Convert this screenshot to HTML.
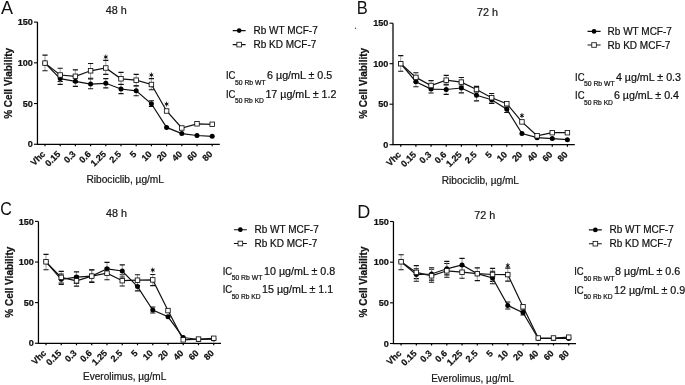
<!DOCTYPE html><html><head><meta charset="utf-8"><style>html,body{margin:0;padding:0;background:#fff;width:685px;height:385px;overflow:hidden}svg{display:block;will-change:transform}text{font-family:"Liberation Sans",sans-serif;stroke:#111;stroke-width:0.22px}</style></head><body>
<svg width="685" height="385" viewBox="0 0 685 385">
<g><text x="0.9" y="14" font-size="18" fill="#111" style="stroke:none">A</text><text x="105.8" y="13.8" font-size="10.8" fill="#222">48 h</text><path d="M37.45 22.1V144.25H219.8" fill="none" stroke="#000" stroke-width="1.25"/><path d="M33.95 144.25H37.45" stroke="#000" stroke-width="1.1"/><text x="32.85" y="147.45" font-size="9.1" font-weight="bold" text-anchor="end" fill="#111">0</text><path d="M33.95 103.53H37.45" stroke="#000" stroke-width="1.1"/><text x="32.85" y="106.73" font-size="9.1" font-weight="bold" text-anchor="end" fill="#111">50</text><path d="M33.95 62.82H37.45" stroke="#000" stroke-width="1.1"/><text x="32.85" y="66.02" font-size="9.1" font-weight="bold" text-anchor="end" fill="#111">100</text><path d="M33.95 22.1H37.45" stroke="#000" stroke-width="1.1"/><text x="32.85" y="25.3" font-size="9.1" font-weight="bold" text-anchor="end" fill="#111">150</text><path d="M45 144.25v2" stroke="#000" stroke-width="1.2"/><text transform="translate(45.9 154.65) rotate(-45)" font-size="9" font-weight="bold" text-anchor="end" fill="#111">Vhc</text><path d="M60.2 144.25v2" stroke="#000" stroke-width="1.2"/><text transform="translate(61.1 154.65) rotate(-45)" font-size="9" font-weight="bold" text-anchor="end" fill="#111">0.15</text><path d="M75.4 144.25v2" stroke="#000" stroke-width="1.2"/><text transform="translate(76.3 154.65) rotate(-45)" font-size="9" font-weight="bold" text-anchor="end" fill="#111">0.3</text><path d="M90.6 144.25v2" stroke="#000" stroke-width="1.2"/><text transform="translate(91.5 154.65) rotate(-45)" font-size="9" font-weight="bold" text-anchor="end" fill="#111">0.6</text><path d="M105.8 144.25v2" stroke="#000" stroke-width="1.2"/><text transform="translate(106.7 154.65) rotate(-45)" font-size="9" font-weight="bold" text-anchor="end" fill="#111">1.25</text><path d="M121 144.25v2" stroke="#000" stroke-width="1.2"/><text transform="translate(121.9 154.65) rotate(-45)" font-size="9" font-weight="bold" text-anchor="end" fill="#111">2.5</text><path d="M136.2 144.25v2" stroke="#000" stroke-width="1.2"/><text transform="translate(137.1 154.65) rotate(-45)" font-size="9" font-weight="bold" text-anchor="end" fill="#111">5</text><path d="M151.4 144.25v2" stroke="#000" stroke-width="1.2"/><text transform="translate(152.3 154.65) rotate(-45)" font-size="9" font-weight="bold" text-anchor="end" fill="#111">10</text><path d="M166.6 144.25v2" stroke="#000" stroke-width="1.2"/><text transform="translate(167.5 154.65) rotate(-45)" font-size="9" font-weight="bold" text-anchor="end" fill="#111">20</text><path d="M181.8 144.25v2" stroke="#000" stroke-width="1.2"/><text transform="translate(182.7 154.65) rotate(-45)" font-size="9" font-weight="bold" text-anchor="end" fill="#111">40</text><path d="M197 144.25v2" stroke="#000" stroke-width="1.2"/><text transform="translate(197.9 154.65) rotate(-45)" font-size="9" font-weight="bold" text-anchor="end" fill="#111">60</text><path d="M212.2 144.25v2" stroke="#000" stroke-width="1.2"/><text transform="translate(213.1 154.65) rotate(-45)" font-size="9" font-weight="bold" text-anchor="end" fill="#111">80</text><text x="86.4" y="183" font-size="10.1" textLength="77.6" lengthAdjust="spacingAndGlyphs" fill="#222">Ribociclib, µg/mL</text><text transform="translate(12 83.4) rotate(-90)" font-size="10" font-weight="bold" text-anchor="middle" fill="#111">% Cell Viability</text><path d="M45 55.1V70.7" stroke="#888" stroke-width="0.8"/><path d="M42.4 55.1h5.2M42.4 70.7h5.2" stroke="#111" stroke-width="1.15"/><path d="M60.2 68.2V81.5" stroke="#888" stroke-width="0.8"/><path d="M57.6 68.2h5.2M57.6 81.5h5.2" stroke="#111" stroke-width="1.15"/><path d="M75.4 69.9V82.5" stroke="#888" stroke-width="0.8"/><path d="M72.8 69.9h5.2M72.8 82.5h5.2" stroke="#111" stroke-width="1.15"/><path d="M90.6 63.5V78.2" stroke="#888" stroke-width="0.8"/><path d="M88 63.5h5.2M88 78.2h5.2" stroke="#111" stroke-width="1.15"/><path d="M105.8 60.4V74.3" stroke="#888" stroke-width="0.8"/><path d="M103.2 60.4h5.2M103.2 74.3h5.2" stroke="#111" stroke-width="1.15"/><path d="M121 72.4V84.3" stroke="#888" stroke-width="0.8"/><path d="M118.4 72.4h5.2M118.4 84.3h5.2" stroke="#111" stroke-width="1.15"/><path d="M136.2 74.3V85.7" stroke="#888" stroke-width="0.8"/><path d="M133.6 74.3h5.2M133.6 85.7h5.2" stroke="#111" stroke-width="1.15"/><path d="M151.4 78.6V89.7" stroke="#888" stroke-width="0.8"/><path d="M148.8 78.6h5.2M148.8 89.7h5.2" stroke="#111" stroke-width="1.15"/><path d="M60.2 74V84.3" stroke="#888" stroke-width="0.8"/><path d="M57.6 74h5.2M57.6 84.3h5.2" stroke="#111" stroke-width="1.15"/><path d="M75.4 76.3V86.3" stroke="#888" stroke-width="0.8"/><path d="M72.8 76.3h5.2M72.8 86.3h5.2" stroke="#111" stroke-width="1.15"/><path d="M90.6 79V88.7" stroke="#888" stroke-width="0.8"/><path d="M88 79h5.2M88 88.7h5.2" stroke="#111" stroke-width="1.15"/><path d="M105.8 78.6V87.9" stroke="#888" stroke-width="0.8"/><path d="M103.2 78.6h5.2M103.2 87.9h5.2" stroke="#111" stroke-width="1.15"/><path d="M121 84.5V93.6" stroke="#888" stroke-width="0.8"/><path d="M118.4 84.5h5.2M118.4 93.6h5.2" stroke="#111" stroke-width="1.15"/><path d="M136.2 86V95.7" stroke="#888" stroke-width="0.8"/><path d="M133.6 86h5.2M133.6 95.7h5.2" stroke="#111" stroke-width="1.15"/><path d="M151.4 100.7V106.5" stroke="#888" stroke-width="0.8"/><path d="M148.8 100.7h5.2M148.8 106.5h5.2" stroke="#111" stroke-width="1.15"/><polyline fill="none" stroke="#111" stroke-width="1.2" points="45,63.1 60.2,78.6 75.4,81.3 90.6,84.1 105.8,83.3 121,89 136.2,90.8 151.4,103.8 166.6,127.4 181.8,133.6 197,135.5 212.2,136.3"/><polyline fill="none" stroke="#111" stroke-width="1.2" points="45,63.1 60.2,75 75.4,76.3 90.6,70.8 105.8,68 121,78.8 136.2,80.2 151.4,84.5 166.6,111 181.8,128 197,123.8 212.2,124.3"/><circle cx="45" cy="63.1" r="2.5" fill="#000"/><circle cx="60.2" cy="78.6" r="2.5" fill="#000"/><circle cx="75.4" cy="81.3" r="2.5" fill="#000"/><circle cx="90.6" cy="84.1" r="2.5" fill="#000"/><circle cx="105.8" cy="83.3" r="2.5" fill="#000"/><circle cx="121" cy="89" r="2.5" fill="#000"/><circle cx="136.2" cy="90.8" r="2.5" fill="#000"/><circle cx="151.4" cy="103.8" r="2.5" fill="#000"/><circle cx="166.6" cy="127.4" r="2.5" fill="#000"/><circle cx="181.8" cy="133.6" r="2.5" fill="#000"/><circle cx="197" cy="135.5" r="2.5" fill="#000"/><circle cx="212.2" cy="136.3" r="2.5" fill="#000"/><rect x="42.75" y="60.85" width="4.5" height="4.5" fill="#fff" stroke="#111" stroke-width="0.85"/><rect x="57.95" y="72.75" width="4.5" height="4.5" fill="#fff" stroke="#111" stroke-width="0.85"/><rect x="73.15" y="74.05" width="4.5" height="4.5" fill="#fff" stroke="#111" stroke-width="0.85"/><rect x="88.35" y="68.55" width="4.5" height="4.5" fill="#fff" stroke="#111" stroke-width="0.85"/><rect x="103.55" y="65.75" width="4.5" height="4.5" fill="#fff" stroke="#111" stroke-width="0.85"/><rect x="118.75" y="76.55" width="4.5" height="4.5" fill="#fff" stroke="#111" stroke-width="0.85"/><rect x="133.95" y="77.95" width="4.5" height="4.5" fill="#fff" stroke="#111" stroke-width="0.85"/><rect x="149.15" y="82.25" width="4.5" height="4.5" fill="#fff" stroke="#111" stroke-width="0.85"/><rect x="164.35" y="108.75" width="4.5" height="4.5" fill="#fff" stroke="#111" stroke-width="0.85"/><rect x="179.55" y="125.75" width="4.5" height="4.5" fill="#fff" stroke="#111" stroke-width="0.85"/><rect x="194.75" y="121.55" width="4.5" height="4.5" fill="#fff" stroke="#111" stroke-width="0.85"/><rect x="209.95" y="122.05" width="4.5" height="4.5" fill="#fff" stroke="#111" stroke-width="0.85"/><path d="M105.8 54.6v4.8M103.85 55.88l3.9 2.24M103.85 58.12l3.9 -2.24" stroke="#111" stroke-width="0.9"/><circle cx="105.8" cy="57" r="1.05" fill="#111"/><path d="M151.4 72.6v4.8M149.45 73.88l3.9 2.24M149.45 76.12l3.9 -2.24" stroke="#111" stroke-width="0.9"/><circle cx="151.4" cy="75" r="1.05" fill="#111"/><path d="M166.6 101.7v4.8M164.65 102.98l3.9 2.24M164.65 105.22l3.9 -2.24" stroke="#111" stroke-width="0.9"/><circle cx="166.6" cy="104.1" r="1.05" fill="#111"/><path d="M232.7 30.6H245.6M232.7 44.6H245.6" stroke="#111" stroke-width="1.15"/><circle cx="239.15" cy="30.6" r="2.35" fill="#000"/><rect x="236.85" y="42.3" width="4.6" height="4.6" fill="#fff" stroke="#222" stroke-width="0.9"/><text x="253.5" y="33.7" font-size="10" fill="#111">Rb WT MCF-7</text><text x="253.5" y="47.7" font-size="10" fill="#111">Rb KD MCF-7</text><text x="225.9" y="78.9" font-size="10.4" textLength="9.5" lengthAdjust="spacingAndGlyphs" fill="#111">IC</text><text x="234.95" y="84.5" font-size="6.9" textLength="30.7" lengthAdjust="spacingAndGlyphs" fill="#111">50 Rb WT</text><text x="267.1" y="78.9" font-size="10.7" fill="#111">6 µg/mL ± 0.5</text><text x="225.9" y="97.5" font-size="10.4" textLength="9.5" lengthAdjust="spacingAndGlyphs" fill="#111">IC</text><text x="234.95" y="103.1" font-size="6.9" textLength="29.0" lengthAdjust="spacingAndGlyphs" fill="#111">50 Rb KD</text><text x="265.4" y="97.5" font-size="10.7" fill="#111">17 µg/mL ± 1.2</text></g>
<g><text x="356.7" y="14" font-size="18" fill="#111" style="stroke:none" textLength="11" lengthAdjust="spacingAndGlyphs">B</text><text x="477" y="15.8" font-size="10.8" fill="#222">72 h</text><path d="M393 23.2V144.7H574.8" fill="none" stroke="#000" stroke-width="1.25"/><path d="M389.5 144.7H393" stroke="#000" stroke-width="1.1"/><text x="388.4" y="147.9" font-size="9.1" font-weight="bold" text-anchor="end" fill="#111">0</text><path d="M389.5 104.2H393" stroke="#000" stroke-width="1.1"/><text x="388.4" y="107.4" font-size="9.1" font-weight="bold" text-anchor="end" fill="#111">50</text><path d="M389.5 63.7H393" stroke="#000" stroke-width="1.1"/><text x="388.4" y="66.9" font-size="9.1" font-weight="bold" text-anchor="end" fill="#111">100</text><path d="M389.5 23.2H393" stroke="#000" stroke-width="1.1"/><text x="388.4" y="26.4" font-size="9.1" font-weight="bold" text-anchor="end" fill="#111">150</text><path d="M400.75 144.7v2" stroke="#000" stroke-width="1.2"/><text transform="translate(401.65 155.1) rotate(-45)" font-size="9" font-weight="bold" text-anchor="end" fill="#111">Vhc</text><path d="M415.9 144.7v2" stroke="#000" stroke-width="1.2"/><text transform="translate(416.8 155.1) rotate(-45)" font-size="9" font-weight="bold" text-anchor="end" fill="#111">0.15</text><path d="M431.05 144.7v2" stroke="#000" stroke-width="1.2"/><text transform="translate(431.95 155.1) rotate(-45)" font-size="9" font-weight="bold" text-anchor="end" fill="#111">0.3</text><path d="M446.2 144.7v2" stroke="#000" stroke-width="1.2"/><text transform="translate(447.1 155.1) rotate(-45)" font-size="9" font-weight="bold" text-anchor="end" fill="#111">0.6</text><path d="M461.35 144.7v2" stroke="#000" stroke-width="1.2"/><text transform="translate(462.25 155.1) rotate(-45)" font-size="9" font-weight="bold" text-anchor="end" fill="#111">1.25</text><path d="M476.5 144.7v2" stroke="#000" stroke-width="1.2"/><text transform="translate(477.4 155.1) rotate(-45)" font-size="9" font-weight="bold" text-anchor="end" fill="#111">2.5</text><path d="M491.65 144.7v2" stroke="#000" stroke-width="1.2"/><text transform="translate(492.55 155.1) rotate(-45)" font-size="9" font-weight="bold" text-anchor="end" fill="#111">5</text><path d="M506.8 144.7v2" stroke="#000" stroke-width="1.2"/><text transform="translate(507.7 155.1) rotate(-45)" font-size="9" font-weight="bold" text-anchor="end" fill="#111">10</text><path d="M521.95 144.7v2" stroke="#000" stroke-width="1.2"/><text transform="translate(522.85 155.1) rotate(-45)" font-size="9" font-weight="bold" text-anchor="end" fill="#111">20</text><path d="M537.1 144.7v2" stroke="#000" stroke-width="1.2"/><text transform="translate(538 155.1) rotate(-45)" font-size="9" font-weight="bold" text-anchor="end" fill="#111">40</text><path d="M552.25 144.7v2" stroke="#000" stroke-width="1.2"/><text transform="translate(553.15 155.1) rotate(-45)" font-size="9" font-weight="bold" text-anchor="end" fill="#111">60</text><path d="M567.4 144.7v2" stroke="#000" stroke-width="1.2"/><text transform="translate(568.3 155.1) rotate(-45)" font-size="9" font-weight="bold" text-anchor="end" fill="#111">80</text><text x="441.8" y="183.7" font-size="10.1" textLength="77.2" lengthAdjust="spacingAndGlyphs" fill="#222">Ribociclib, µg/mL</text><text transform="translate(366.8 83.4) rotate(-90)" font-size="10" font-weight="bold" text-anchor="middle" fill="#111">% Cell Viability</text><path d="M400.75 55.6V71.2" stroke="#888" stroke-width="0.8"/><path d="M398.15 55.6h5.2M398.15 71.2h5.2" stroke="#111" stroke-width="1.15"/><path d="M415.9 72.7V82" stroke="#888" stroke-width="0.8"/><path d="M413.3 72.7h5.2M413.3 82h5.2" stroke="#111" stroke-width="1.15"/><path d="M431.05 80.6V88" stroke="#888" stroke-width="0.8"/><path d="M428.45 80.6h5.2M428.45 88h5.2" stroke="#111" stroke-width="1.15"/><path d="M446.2 75.4V84.2" stroke="#888" stroke-width="0.8"/><path d="M443.6 75.4h5.2M443.6 84.2h5.2" stroke="#111" stroke-width="1.15"/><path d="M461.35 77.5V86" stroke="#888" stroke-width="0.8"/><path d="M458.75 77.5h5.2M458.75 86h5.2" stroke="#111" stroke-width="1.15"/><path d="M476.5 86.3V92" stroke="#888" stroke-width="0.8"/><path d="M473.9 86.3h5.2M473.9 92h5.2" stroke="#111" stroke-width="1.15"/><path d="M491.65 93.5V103.3" stroke="#888" stroke-width="0.8"/><path d="M489.05 93.5h5.2M489.05 103.3h5.2" stroke="#111" stroke-width="1.15"/><path d="M415.9 77V86.7" stroke="#888" stroke-width="0.8"/><path d="M413.3 77h5.2M413.3 86.7h5.2" stroke="#111" stroke-width="1.15"/><path d="M431.05 85V93" stroke="#888" stroke-width="0.8"/><path d="M428.45 85h5.2M428.45 93h5.2" stroke="#111" stroke-width="1.15"/><path d="M446.2 85V94.4" stroke="#888" stroke-width="0.8"/><path d="M443.6 85h5.2M443.6 94.4h5.2" stroke="#111" stroke-width="1.15"/><path d="M461.35 83.5V92.8" stroke="#888" stroke-width="0.8"/><path d="M458.75 83.5h5.2M458.75 92.8h5.2" stroke="#111" stroke-width="1.15"/><path d="M476.5 91V100.8" stroke="#888" stroke-width="0.8"/><path d="M473.9 91h5.2M473.9 100.8h5.2" stroke="#111" stroke-width="1.15"/><path d="M491.65 97V103.3" stroke="#888" stroke-width="0.8"/><path d="M489.05 97h5.2M489.05 103.3h5.2" stroke="#111" stroke-width="1.15"/><path d="M506.8 107V112.5" stroke="#888" stroke-width="0.8"/><path d="M504.2 107h5.2M504.2 112.5h5.2" stroke="#111" stroke-width="1.15"/><polyline fill="none" stroke="#111" stroke-width="1.2" points="400.75,63.7 415.9,81.7 431.05,89.1 446.2,89.5 461.35,88 476.5,95.2 491.65,99.8 506.8,109.3 521.95,133.5 537.1,137.7 552.25,138.6 567.4,139.7"/><polyline fill="none" stroke="#111" stroke-width="1.2" points="400.75,63.7 415.9,77.4 431.05,85.5 446.2,80.2 461.35,82.1 476.5,89.5 491.65,97.7 506.8,103.7 521.95,121.9 537.1,135.8 552.25,132.7 567.4,132.7"/><circle cx="400.75" cy="63.7" r="2.5" fill="#000"/><circle cx="415.9" cy="81.7" r="2.5" fill="#000"/><circle cx="431.05" cy="89.1" r="2.5" fill="#000"/><circle cx="446.2" cy="89.5" r="2.5" fill="#000"/><circle cx="461.35" cy="88" r="2.5" fill="#000"/><circle cx="476.5" cy="95.2" r="2.5" fill="#000"/><circle cx="491.65" cy="99.8" r="2.5" fill="#000"/><circle cx="506.8" cy="109.3" r="2.5" fill="#000"/><circle cx="521.95" cy="133.5" r="2.5" fill="#000"/><circle cx="537.1" cy="137.7" r="2.5" fill="#000"/><circle cx="552.25" cy="138.6" r="2.5" fill="#000"/><circle cx="567.4" cy="139.7" r="2.5" fill="#000"/><rect x="398.5" y="61.45" width="4.5" height="4.5" fill="#fff" stroke="#111" stroke-width="0.85"/><rect x="413.65" y="75.15" width="4.5" height="4.5" fill="#fff" stroke="#111" stroke-width="0.85"/><rect x="428.8" y="83.25" width="4.5" height="4.5" fill="#fff" stroke="#111" stroke-width="0.85"/><rect x="443.95" y="77.95" width="4.5" height="4.5" fill="#fff" stroke="#111" stroke-width="0.85"/><rect x="459.1" y="79.85" width="4.5" height="4.5" fill="#fff" stroke="#111" stroke-width="0.85"/><rect x="474.25" y="87.25" width="4.5" height="4.5" fill="#fff" stroke="#111" stroke-width="0.85"/><rect x="489.4" y="95.45" width="4.5" height="4.5" fill="#fff" stroke="#111" stroke-width="0.85"/><rect x="504.55" y="101.45" width="4.5" height="4.5" fill="#fff" stroke="#111" stroke-width="0.85"/><rect x="519.7" y="119.65" width="4.5" height="4.5" fill="#fff" stroke="#111" stroke-width="0.85"/><rect x="534.85" y="133.55" width="4.5" height="4.5" fill="#fff" stroke="#111" stroke-width="0.85"/><rect x="550" y="130.45" width="4.5" height="4.5" fill="#fff" stroke="#111" stroke-width="0.85"/><rect x="565.15" y="130.45" width="4.5" height="4.5" fill="#fff" stroke="#111" stroke-width="0.85"/><path d="M521.95 113.2v4.8M520 114.48l3.9 2.24M520 116.72l3.9 -2.24" stroke="#111" stroke-width="0.9"/><circle cx="521.95" cy="115.6" r="1.05" fill="#111"/><path d="M587.5 31.4H600.6M587.5 45H600.6" stroke="#111" stroke-width="1.15"/><circle cx="594.05" cy="31.4" r="2.35" fill="#000"/><rect x="591.75" y="42.7" width="4.6" height="4.6" fill="#fff" stroke="#222" stroke-width="0.9"/><text x="607.6" y="34.7" font-size="10" fill="#111">Rb WT MCF-7</text><text x="607.6" y="48.5" font-size="10" fill="#111">Rb KD MCF-7</text><text x="575.1" y="80.6" font-size="10.4" textLength="9.5" lengthAdjust="spacingAndGlyphs" fill="#111">IC</text><text x="583.95" y="86.2" font-size="6.9" textLength="30.7" lengthAdjust="spacingAndGlyphs" fill="#111">50 Rb WT</text><text x="615.9" y="80.6" font-size="10.7" fill="#111">4 µg/mL ± 0.3</text><text x="575.1" y="99.1" font-size="10.4" textLength="9.5" lengthAdjust="spacingAndGlyphs" fill="#111">IC</text><text x="583.95" y="104.7" font-size="6.9" textLength="29.0" lengthAdjust="spacingAndGlyphs" fill="#111">50 Rb KD</text><text x="613.9" y="99.1" font-size="10.7" fill="#111">6 µg/mL ± 0.4</text></g>
<g><text x="0.3" y="215.1" font-size="18" fill="#111" style="stroke:none" textLength="11.6" lengthAdjust="spacingAndGlyphs">C</text><text x="106.1" y="216.7" font-size="10.8" fill="#222">48 h</text><path d="M38.45 221.4V343.25H221" fill="none" stroke="#000" stroke-width="1.25"/><path d="M34.95 343.25H38.45" stroke="#000" stroke-width="1.1"/><text x="33.85" y="346.45" font-size="9.1" font-weight="bold" text-anchor="end" fill="#111">0</text><path d="M34.95 302.63H38.45" stroke="#000" stroke-width="1.1"/><text x="33.85" y="305.83" font-size="9.1" font-weight="bold" text-anchor="end" fill="#111">50</text><path d="M34.95 262.02H38.45" stroke="#000" stroke-width="1.1"/><text x="33.85" y="265.22" font-size="9.1" font-weight="bold" text-anchor="end" fill="#111">100</text><path d="M34.95 221.4H38.45" stroke="#000" stroke-width="1.1"/><text x="33.85" y="224.6" font-size="9.1" font-weight="bold" text-anchor="end" fill="#111">150</text><path d="M46 343.25v2" stroke="#000" stroke-width="1.2"/><text transform="translate(46.9 353.65) rotate(-45)" font-size="9" font-weight="bold" text-anchor="end" fill="#111">Vhc</text><path d="M61.25 343.25v2" stroke="#000" stroke-width="1.2"/><text transform="translate(62.15 353.65) rotate(-45)" font-size="9" font-weight="bold" text-anchor="end" fill="#111">0.15</text><path d="M76.5 343.25v2" stroke="#000" stroke-width="1.2"/><text transform="translate(77.4 353.65) rotate(-45)" font-size="9" font-weight="bold" text-anchor="end" fill="#111">0.3</text><path d="M91.75 343.25v2" stroke="#000" stroke-width="1.2"/><text transform="translate(92.65 353.65) rotate(-45)" font-size="9" font-weight="bold" text-anchor="end" fill="#111">0.6</text><path d="M107 343.25v2" stroke="#000" stroke-width="1.2"/><text transform="translate(107.9 353.65) rotate(-45)" font-size="9" font-weight="bold" text-anchor="end" fill="#111">1.25</text><path d="M122.25 343.25v2" stroke="#000" stroke-width="1.2"/><text transform="translate(123.15 353.65) rotate(-45)" font-size="9" font-weight="bold" text-anchor="end" fill="#111">2.5</text><path d="M137.5 343.25v2" stroke="#000" stroke-width="1.2"/><text transform="translate(138.4 353.65) rotate(-45)" font-size="9" font-weight="bold" text-anchor="end" fill="#111">5</text><path d="M152.75 343.25v2" stroke="#000" stroke-width="1.2"/><text transform="translate(153.65 353.65) rotate(-45)" font-size="9" font-weight="bold" text-anchor="end" fill="#111">10</text><path d="M168 343.25v2" stroke="#000" stroke-width="1.2"/><text transform="translate(168.9 353.65) rotate(-45)" font-size="9" font-weight="bold" text-anchor="end" fill="#111">20</text><path d="M183.25 343.25v2" stroke="#000" stroke-width="1.2"/><text transform="translate(184.15 353.65) rotate(-45)" font-size="9" font-weight="bold" text-anchor="end" fill="#111">40</text><path d="M198.5 343.25v2" stroke="#000" stroke-width="1.2"/><text transform="translate(199.4 353.65) rotate(-45)" font-size="9" font-weight="bold" text-anchor="end" fill="#111">60</text><path d="M213.75 343.25v2" stroke="#000" stroke-width="1.2"/><text transform="translate(214.65 353.65) rotate(-45)" font-size="9" font-weight="bold" text-anchor="end" fill="#111">80</text><text x="83.1" y="380.1" font-size="10.1" textLength="83.2" lengthAdjust="spacingAndGlyphs" fill="#222">Everolimus, µg/mL</text><text transform="translate(12.6 282.2) rotate(-90)" font-size="10" font-weight="bold" text-anchor="middle" fill="#111">% Cell Viability</text><path d="M46 254.4V269.7" stroke="#888" stroke-width="0.8"/><path d="M43.4 254.4h5.2M43.4 269.7h5.2" stroke="#111" stroke-width="1.15"/><path d="M61.25 271.3V283" stroke="#888" stroke-width="0.8"/><path d="M58.65 271.3h5.2M58.65 283h5.2" stroke="#111" stroke-width="1.15"/><path d="M76.5 276V286.1" stroke="#888" stroke-width="0.8"/><path d="M73.9 276h5.2M73.9 286.1h5.2" stroke="#111" stroke-width="1.15"/><path d="M91.75 269.7V282.4" stroke="#888" stroke-width="0.8"/><path d="M89.15 269.7h5.2M89.15 282.4h5.2" stroke="#111" stroke-width="1.15"/><path d="M107 268V279.7" stroke="#888" stroke-width="0.8"/><path d="M104.4 268h5.2M104.4 279.7h5.2" stroke="#111" stroke-width="1.15"/><path d="M122.25 274.7V286" stroke="#888" stroke-width="0.8"/><path d="M119.65 274.7h5.2M119.65 286h5.2" stroke="#111" stroke-width="1.15"/><path d="M137.5 274.7V285.5" stroke="#888" stroke-width="0.8"/><path d="M134.9 274.7h5.2M134.9 285.5h5.2" stroke="#111" stroke-width="1.15"/><path d="M152.75 274.5V285.6" stroke="#888" stroke-width="0.8"/><path d="M150.15 274.5h5.2M150.15 285.6h5.2" stroke="#111" stroke-width="1.15"/><path d="M61.25 274V284.3" stroke="#888" stroke-width="0.8"/><path d="M58.65 274h5.2M58.65 284.3h5.2" stroke="#111" stroke-width="1.15"/><path d="M76.5 271.8V283.2" stroke="#888" stroke-width="0.8"/><path d="M73.9 271.8h5.2M73.9 283.2h5.2" stroke="#111" stroke-width="1.15"/><path d="M91.75 270V282" stroke="#888" stroke-width="0.8"/><path d="M89.15 270h5.2M89.15 282h5.2" stroke="#111" stroke-width="1.15"/><path d="M107 262.3V274.5" stroke="#888" stroke-width="0.8"/><path d="M104.4 262.3h5.2M104.4 274.5h5.2" stroke="#111" stroke-width="1.15"/><path d="M122.25 264.9V277" stroke="#888" stroke-width="0.8"/><path d="M119.65 264.9h5.2M119.65 277h5.2" stroke="#111" stroke-width="1.15"/><path d="M137.5 281V290.8" stroke="#888" stroke-width="0.8"/><path d="M134.9 281h5.2M134.9 290.8h5.2" stroke="#111" stroke-width="1.15"/><path d="M152.75 307V313" stroke="#888" stroke-width="0.8"/><path d="M150.15 307h5.2M150.15 313h5.2" stroke="#111" stroke-width="1.15"/><polyline fill="none" stroke="#111" stroke-width="1.2" points="46,261.8 61.25,279.3 76.5,277.1 91.75,276.1 107,268.8 122.25,271 137.5,286.6 152.75,310 168,316.8 183.25,337.5 198.5,339.5 213.75,339.1"/><polyline fill="none" stroke="#111" stroke-width="1.2" points="46,261.8 61.25,277.4 76.5,280.8 91.75,276.1 107,273.2 122.25,280.7 137.5,280.2 152.75,279.9 168,310.6 183.25,339.8 198.5,339.1 213.75,338.3"/><circle cx="46" cy="261.8" r="2.5" fill="#000"/><circle cx="61.25" cy="279.3" r="2.5" fill="#000"/><circle cx="76.5" cy="277.1" r="2.5" fill="#000"/><circle cx="91.75" cy="276.1" r="2.5" fill="#000"/><circle cx="107" cy="268.8" r="2.5" fill="#000"/><circle cx="122.25" cy="271" r="2.5" fill="#000"/><circle cx="137.5" cy="286.6" r="2.5" fill="#000"/><circle cx="152.75" cy="310" r="2.5" fill="#000"/><circle cx="168" cy="316.8" r="2.5" fill="#000"/><circle cx="183.25" cy="337.5" r="2.5" fill="#000"/><circle cx="198.5" cy="339.5" r="2.5" fill="#000"/><circle cx="213.75" cy="339.1" r="2.5" fill="#000"/><rect x="43.75" y="259.55" width="4.5" height="4.5" fill="#fff" stroke="#111" stroke-width="0.85"/><rect x="59" y="275.15" width="4.5" height="4.5" fill="#fff" stroke="#111" stroke-width="0.85"/><rect x="74.25" y="278.55" width="4.5" height="4.5" fill="#fff" stroke="#111" stroke-width="0.85"/><rect x="89.5" y="273.85" width="4.5" height="4.5" fill="#fff" stroke="#111" stroke-width="0.85"/><rect x="104.75" y="270.95" width="4.5" height="4.5" fill="#fff" stroke="#111" stroke-width="0.85"/><rect x="120" y="278.45" width="4.5" height="4.5" fill="#fff" stroke="#111" stroke-width="0.85"/><rect x="135.25" y="277.95" width="4.5" height="4.5" fill="#fff" stroke="#111" stroke-width="0.85"/><rect x="150.5" y="277.65" width="4.5" height="4.5" fill="#fff" stroke="#111" stroke-width="0.85"/><rect x="165.75" y="308.35" width="4.5" height="4.5" fill="#fff" stroke="#111" stroke-width="0.85"/><rect x="181" y="337.55" width="4.5" height="4.5" fill="#fff" stroke="#111" stroke-width="0.85"/><rect x="196.25" y="336.85" width="4.5" height="4.5" fill="#fff" stroke="#111" stroke-width="0.85"/><rect x="211.5" y="336.05" width="4.5" height="4.5" fill="#fff" stroke="#111" stroke-width="0.85"/><path d="M152.75 267.7v4.8M150.8 268.98l3.9 2.24M150.8 271.22l3.9 -2.24" stroke="#111" stroke-width="0.9"/><circle cx="152.75" cy="270.1" r="1.05" fill="#111"/><path d="M233.9 229.7H246.8M233.9 243.5H246.8" stroke="#111" stroke-width="1.15"/><circle cx="240.35" cy="229.7" r="2.35" fill="#000"/><rect x="238.05" y="241.2" width="4.6" height="4.6" fill="#fff" stroke="#222" stroke-width="0.9"/><text x="254.5" y="232.9" font-size="10" fill="#111">Rb WT MCF-7</text><text x="254.5" y="246.5" font-size="10" fill="#111">Rb KD MCF-7</text><text x="222.7" y="274.8" font-size="10.4" textLength="9.5" lengthAdjust="spacingAndGlyphs" fill="#111">IC</text><text x="231.65" y="280.4" font-size="6.9" textLength="30.7" lengthAdjust="spacingAndGlyphs" fill="#111">50 Rb WT</text><text x="264.1" y="274.8" font-size="10.7" fill="#111">10 µg/mL ± 0.8</text><text x="222.7" y="293.4" font-size="10.4" textLength="9.5" lengthAdjust="spacingAndGlyphs" fill="#111">IC</text><text x="231.65" y="299" font-size="6.9" textLength="29.0" lengthAdjust="spacingAndGlyphs" fill="#111">50 Rb KD</text><text x="262.1" y="293.4" font-size="10.7" fill="#111">15 µg/mL ± 1.1</text></g>
<g><text x="357.3" y="217.9" font-size="18" fill="#111" style="stroke:none">D</text><text x="474.2" y="218.8" font-size="10.8" fill="#222">72 h</text><path d="M393.45 221.5V343.5H576" fill="none" stroke="#000" stroke-width="1.25"/><path d="M389.95 343.5H393.45" stroke="#000" stroke-width="1.1"/><text x="388.85" y="346.7" font-size="9.1" font-weight="bold" text-anchor="end" fill="#111">0</text><path d="M389.95 302.83H393.45" stroke="#000" stroke-width="1.1"/><text x="388.85" y="306.03" font-size="9.1" font-weight="bold" text-anchor="end" fill="#111">50</text><path d="M389.95 262.17H393.45" stroke="#000" stroke-width="1.1"/><text x="388.85" y="265.37" font-size="9.1" font-weight="bold" text-anchor="end" fill="#111">100</text><path d="M389.95 221.5H393.45" stroke="#000" stroke-width="1.1"/><text x="388.85" y="224.7" font-size="9.1" font-weight="bold" text-anchor="end" fill="#111">150</text><path d="M401.1 343.5v2" stroke="#000" stroke-width="1.2"/><text transform="translate(402 353.9) rotate(-45)" font-size="9" font-weight="bold" text-anchor="end" fill="#111">Vhc</text><path d="M416.34 343.5v2" stroke="#000" stroke-width="1.2"/><text transform="translate(417.24 353.9) rotate(-45)" font-size="9" font-weight="bold" text-anchor="end" fill="#111">0.15</text><path d="M431.58 343.5v2" stroke="#000" stroke-width="1.2"/><text transform="translate(432.48 353.9) rotate(-45)" font-size="9" font-weight="bold" text-anchor="end" fill="#111">0.3</text><path d="M446.82 343.5v2" stroke="#000" stroke-width="1.2"/><text transform="translate(447.72 353.9) rotate(-45)" font-size="9" font-weight="bold" text-anchor="end" fill="#111">0.6</text><path d="M462.06 343.5v2" stroke="#000" stroke-width="1.2"/><text transform="translate(462.96 353.9) rotate(-45)" font-size="9" font-weight="bold" text-anchor="end" fill="#111">1.25</text><path d="M477.3 343.5v2" stroke="#000" stroke-width="1.2"/><text transform="translate(478.2 353.9) rotate(-45)" font-size="9" font-weight="bold" text-anchor="end" fill="#111">2.5</text><path d="M492.54 343.5v2" stroke="#000" stroke-width="1.2"/><text transform="translate(493.44 353.9) rotate(-45)" font-size="9" font-weight="bold" text-anchor="end" fill="#111">5</text><path d="M507.78 343.5v2" stroke="#000" stroke-width="1.2"/><text transform="translate(508.68 353.9) rotate(-45)" font-size="9" font-weight="bold" text-anchor="end" fill="#111">10</text><path d="M523.02 343.5v2" stroke="#000" stroke-width="1.2"/><text transform="translate(523.92 353.9) rotate(-45)" font-size="9" font-weight="bold" text-anchor="end" fill="#111">20</text><path d="M538.26 343.5v2" stroke="#000" stroke-width="1.2"/><text transform="translate(539.16 353.9) rotate(-45)" font-size="9" font-weight="bold" text-anchor="end" fill="#111">40</text><path d="M553.5 343.5v2" stroke="#000" stroke-width="1.2"/><text transform="translate(554.4 353.9) rotate(-45)" font-size="9" font-weight="bold" text-anchor="end" fill="#111">60</text><path d="M568.74 343.5v2" stroke="#000" stroke-width="1.2"/><text transform="translate(569.64 353.9) rotate(-45)" font-size="9" font-weight="bold" text-anchor="end" fill="#111">80</text><text x="431.2" y="382.1" font-size="10.1" textLength="82.9" lengthAdjust="spacingAndGlyphs" fill="#222">Everolimus, µg/mL</text><text transform="translate(367.1 282) rotate(-90)" font-size="10" font-weight="bold" text-anchor="middle" fill="#111">% Cell Viability</text><path d="M401.1 254.7V269.7" stroke="#888" stroke-width="0.8"/><path d="M398.5 254.7h5.2M398.5 269.7h5.2" stroke="#111" stroke-width="1.15"/><path d="M416.34 265.6V278.6" stroke="#888" stroke-width="0.8"/><path d="M413.74 265.6h5.2M413.74 278.6h5.2" stroke="#111" stroke-width="1.15"/><path d="M431.58 269.2V282.2" stroke="#888" stroke-width="0.8"/><path d="M428.98 269.2h5.2M428.98 282.2h5.2" stroke="#111" stroke-width="1.15"/><path d="M446.82 263.5V277.2" stroke="#888" stroke-width="0.8"/><path d="M444.22 263.5h5.2M444.22 277.2h5.2" stroke="#111" stroke-width="1.15"/><path d="M462.06 266V278.2" stroke="#888" stroke-width="0.8"/><path d="M459.46 266h5.2M459.46 278.2h5.2" stroke="#111" stroke-width="1.15"/><path d="M477.3 267.8V280.6" stroke="#888" stroke-width="0.8"/><path d="M474.7 267.8h5.2M474.7 280.6h5.2" stroke="#111" stroke-width="1.15"/><path d="M492.54 268.4V281.4" stroke="#888" stroke-width="0.8"/><path d="M489.94 268.4h5.2M489.94 281.4h5.2" stroke="#111" stroke-width="1.15"/><path d="M507.78 268.1V281.1" stroke="#888" stroke-width="0.8"/><path d="M505.18 268.1h5.2M505.18 281.1h5.2" stroke="#111" stroke-width="1.15"/><path d="M416.34 268.7V281.2" stroke="#888" stroke-width="0.8"/><path d="M413.74 268.7h5.2M413.74 281.2h5.2" stroke="#111" stroke-width="1.15"/><path d="M431.58 267.7V280.1" stroke="#888" stroke-width="0.8"/><path d="M428.98 267.7h5.2M428.98 280.1h5.2" stroke="#111" stroke-width="1.15"/><path d="M446.82 261.4V274.9" stroke="#888" stroke-width="0.8"/><path d="M444.22 261.4h5.2M444.22 274.9h5.2" stroke="#111" stroke-width="1.15"/><path d="M462.06 258.4V271" stroke="#888" stroke-width="0.8"/><path d="M459.46 258.4h5.2M459.46 271h5.2" stroke="#111" stroke-width="1.15"/><path d="M492.54 271.2V283.7" stroke="#888" stroke-width="0.8"/><path d="M489.94 271.2h5.2M489.94 283.7h5.2" stroke="#111" stroke-width="1.15"/><path d="M507.78 302V309" stroke="#888" stroke-width="0.8"/><path d="M505.18 302h5.2M505.18 309h5.2" stroke="#111" stroke-width="1.15"/><path d="M523.02 310V315" stroke="#888" stroke-width="0.8"/><path d="M520.42 310h5.2M520.42 315h5.2" stroke="#111" stroke-width="1.15"/><polyline fill="none" stroke="#111" stroke-width="1.2" points="401.1,261.8 416.34,274.6 431.58,274 446.82,268.8 462.06,264.9 477.3,273.7 492.54,278 507.78,305.4 523.02,312.6 538.26,338.5 553.5,338.5 568.74,338.5"/><polyline fill="none" stroke="#111" stroke-width="1.2" points="401.1,261.8 416.34,272.4 431.58,275.8 446.82,270.8 462.06,272.2 477.3,273.7 492.54,274.5 507.78,274.6 523.02,306.8 538.26,338 553.5,338 568.74,337.2"/><circle cx="401.1" cy="261.8" r="2.5" fill="#000"/><circle cx="416.34" cy="274.6" r="2.5" fill="#000"/><circle cx="431.58" cy="274" r="2.5" fill="#000"/><circle cx="446.82" cy="268.8" r="2.5" fill="#000"/><circle cx="462.06" cy="264.9" r="2.5" fill="#000"/><circle cx="477.3" cy="273.7" r="2.5" fill="#000"/><circle cx="492.54" cy="278" r="2.5" fill="#000"/><circle cx="507.78" cy="305.4" r="2.5" fill="#000"/><circle cx="523.02" cy="312.6" r="2.5" fill="#000"/><circle cx="538.26" cy="338.5" r="2.5" fill="#000"/><circle cx="553.5" cy="338.5" r="2.5" fill="#000"/><circle cx="568.74" cy="338.5" r="2.5" fill="#000"/><rect x="398.85" y="259.55" width="4.5" height="4.5" fill="#fff" stroke="#111" stroke-width="0.85"/><rect x="414.09" y="270.15" width="4.5" height="4.5" fill="#fff" stroke="#111" stroke-width="0.85"/><rect x="429.33" y="273.55" width="4.5" height="4.5" fill="#fff" stroke="#111" stroke-width="0.85"/><rect x="444.57" y="268.55" width="4.5" height="4.5" fill="#fff" stroke="#111" stroke-width="0.85"/><rect x="459.81" y="269.95" width="4.5" height="4.5" fill="#fff" stroke="#111" stroke-width="0.85"/><rect x="475.05" y="271.45" width="4.5" height="4.5" fill="#fff" stroke="#111" stroke-width="0.85"/><rect x="490.29" y="272.25" width="4.5" height="4.5" fill="#fff" stroke="#111" stroke-width="0.85"/><rect x="505.53" y="272.35" width="4.5" height="4.5" fill="#fff" stroke="#111" stroke-width="0.85"/><rect x="520.77" y="304.55" width="4.5" height="4.5" fill="#fff" stroke="#111" stroke-width="0.85"/><rect x="536.01" y="335.75" width="4.5" height="4.5" fill="#fff" stroke="#111" stroke-width="0.85"/><rect x="551.25" y="335.75" width="4.5" height="4.5" fill="#fff" stroke="#111" stroke-width="0.85"/><rect x="566.49" y="334.95" width="4.5" height="4.5" fill="#fff" stroke="#111" stroke-width="0.85"/><path d="M507.78 263.2v4.8M505.83 264.48l3.9 2.24M505.83 266.72l3.9 -2.24" stroke="#111" stroke-width="0.9"/><circle cx="507.78" cy="265.6" r="1.05" fill="#111"/><path d="M588.9 229.9H601.8M588.9 243.7H601.8" stroke="#111" stroke-width="1.15"/><circle cx="595.35" cy="229.9" r="2.35" fill="#000"/><rect x="593.05" y="241.4" width="4.6" height="4.6" fill="#fff" stroke="#222" stroke-width="0.9"/><text x="609.5" y="233.4" font-size="10" fill="#111">Rb WT MCF-7</text><text x="609.5" y="247" font-size="10" fill="#111">Rb KD MCF-7</text><text x="574.2" y="275.3" font-size="10.4" textLength="9.5" lengthAdjust="spacingAndGlyphs" fill="#111">IC</text><text x="583.65" y="280.9" font-size="6.9" textLength="30.7" lengthAdjust="spacingAndGlyphs" fill="#111">50 Rb WT</text><text x="615.1" y="275.3" font-size="10.7" fill="#111">8 µg/mL ± 0.6</text><text x="574.2" y="293.6" font-size="10.4" textLength="9.5" lengthAdjust="spacingAndGlyphs" fill="#111">IC</text><text x="583.65" y="299.2" font-size="6.9" textLength="29.0" lengthAdjust="spacingAndGlyphs" fill="#111">50 Rb KD</text><text x="614.1" y="293.6" font-size="10.7" fill="#111">12 µg/mL ± 0.9</text></g>
<ellipse cx="355.5" cy="28.3" rx="0.6" ry="0.8" fill="#333"/>
</svg></body></html>
